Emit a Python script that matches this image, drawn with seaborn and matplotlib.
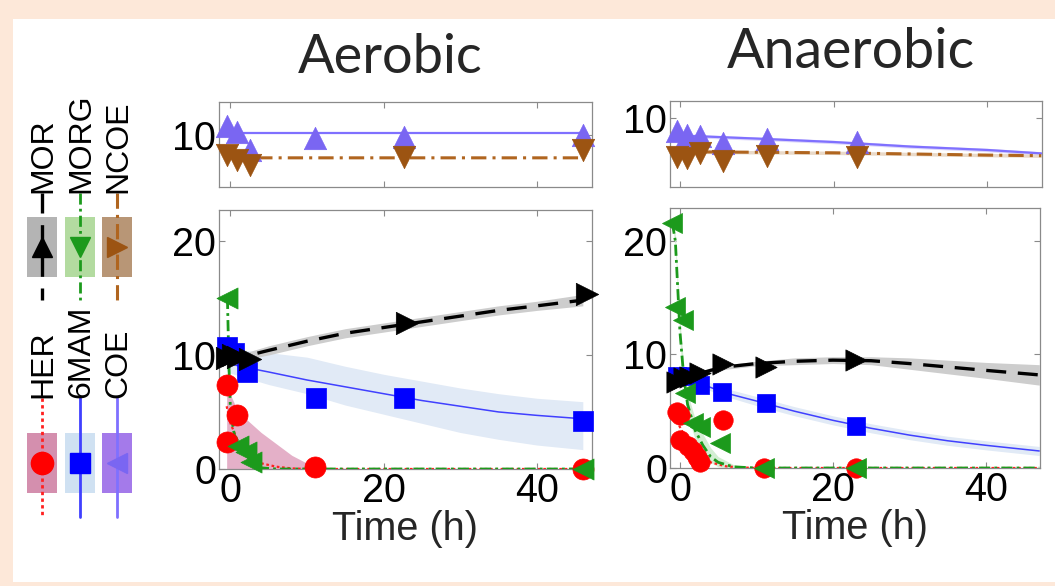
import matplotlib
matplotlib.use("Agg")
import matplotlib.pyplot as plt
from matplotlib.patches import Rectangle
import seaborn as sns

sns.set_theme(style="white")
plt.rcParams['font.family'] = ['Liberation Sans', 'DejaVu Sans']

# ------------------------------------------------------------------ data
titles = ["Aerobic", "Anaerobic"]
xlabel = "Time (h)"
xticks = [0, 20, 40]
yticks_main = [0, 10, 20]
yticks_top = [10]
legend_top = ["MOR", "MORG", "NCOE"]
legend_bottom = ["HER", "6MAM", "COE"]

# ---- Aerobic
aer_her_t = [-0.5, 0.9, -0.4, 11.0, 46.0]
aer_her_y = [7.4, 4.7, 2.4, 0.2, 0.0]
aer_her_fit_t = [-0.5, 0, 1, 2, 3, 4, 6, 8, 10, 12, 20, 30, 46]
aer_her_fit_y = [5.5, 4.0, 2.4, 1.5, 0.9, 0.5, 0.2, 0.05, 0.0, 0.0, 0.0, 0.0, 0.0]
aer_her_hi = [7.5, 6.5, 5.0, 4.4, 3.8, 3.2, 2.2, 1.2, 0.5, 0.1, 0.0, 0.0, 0.0]
aer_her_lo = [0.0, 0.0, 0.0, 0.0, 0.0, 0.0, 0.0, 0.0, 0.0, 0.0, 0.0, 0.0, 0.0]

aer_6mam_t = [-0.5, 0.5, 2.2, 11.1, 22.7, 46.0]
aer_6mam_y = [10.7, 10.2, 8.5, 6.2, 6.2, 4.2]
aer_6mam_fit_t = [-0.5, 0, 2, 5, 10, 15, 20, 25, 30, 35, 40, 46]
aer_6mam_fit_y = [9.3, 9.2, 8.9, 8.5, 7.8, 7.2, 6.6, 6.0, 5.5, 5.0, 4.7, 4.4]
aer_6mam_hi = [10.5, 10.5, 10.4, 10.2, 9.8, 9.0, 8.3, 7.7, 7.1, 6.6, 6.2, 5.9]
aer_6mam_lo = [8.6, 8.4, 8.0, 7.4, 6.6, 5.6, 4.8, 4.0, 3.2, 2.6, 2.1, 1.7]

aer_mor_t = [-0.5, 0.3, 1.0, 2.5, 23.0, 46.5]
aer_mor_y = [9.7, 10.0, 9.8, 9.6, 12.8, 15.3]
aer_mor_fit_t = [-0.5, 0, 2, 5, 10, 15, 20, 25, 30, 35, 40, 46]
aer_mor_fit_y = [9.5, 9.6, 9.9, 10.4, 11.2, 11.9, 12.4, 12.9, 13.4, 13.9, 14.3, 14.8]
aer_mor_hi = [9.7, 9.8, 10.2, 10.8, 11.6, 12.3, 12.8, 13.3, 13.8, 14.3, 14.7, 15.3]
aer_mor_lo = [9.3, 9.4, 9.6, 10.0, 10.8, 11.5, 12.0, 12.5, 13.0, 13.5, 13.9, 14.3]

aer_morg_t = [-0.4, 1.0, 2.0, 2.7, 46.0]
aer_morg_y = [15.0, 2.0, 1.5, 0.6, 0.0]
aer_morg_fit_t = [-0.4, -0.2, 0, 0.5, 1, 2, 3, 4, 6, 10, 20, 46]
aer_morg_fit_y = [15.0, 9.0, 5.0, 3.0, 2.4, 1.3, 0.4, 0.1, 0.0, 0.0, 0.0, 0.0]

aer_coe_t = [-0.5, 0.9, 2.5, 11.0, 22.7, 46.0]
aer_coe_y = [10.8, 10.3, 8.7, 9.7, 9.85, 10.0]
aer_coe_fit_t = [-0.5, 10, 20, 30, 40, 46.5]
aer_coe_fit_y = [10.2, 10.2, 10.2, 10.2, 10.2, 10.2]

aer_ncoe_t = [-0.5, 0.9, 2.5, 22.7, 46.0]
aer_ncoe_y = [8.25, 7.8, 7.4, 8.1, 8.7]
aer_ncoe_fit_t = [-0.5, 10, 20, 30, 40, 46.0, 46.3]
aer_ncoe_fit_y = [8.0, 8.0, 8.0, 8.0, 8.0, 8.0, 8.9]

# ---- Anaerobic
ana_her_t = [-0.4, 0.0, 0.0, 1.1, 1.7, 2.2, 2.6, 5.6, 11.0, 23.0]
ana_her_y = [4.9, 4.7, 2.5, 1.9, 1.5, 1.0, 0.5, 4.2, 0.0, 0.0]
ana_her_fit_t = [-1, 0, 1, 2, 3, 4, 6, 8, 10, 20, 47]
ana_her_fit_y = [5.0, 3.6, 2.4, 1.5, 0.9, 0.5, 0.15, 0.05, 0.0, 0.0, 0.0]

ana_fit_t = [-1, 0, 2, 4, 6, 10, 15, 20, 25, 30, 35, 40, 47]
ana_6mam_t = [-0.4, 1.1, 2.6, 5.5, 11.3, 23.0]
ana_6mam_y = [8.1, 8.1, 7.3, 6.7, 5.7, 3.7]
ana_6mam_fit_y = [8.1, 8.0, 7.6, 7.1, 6.6, 5.9, 5.0, 4.2, 3.5, 2.9, 2.4, 2.0, 1.5]
ana_6mam_hi = [8.4, 8.3, 7.9, 7.5, 7.0, 6.3, 5.4, 4.6, 3.9, 3.3, 2.8, 2.4, 1.9]
ana_6mam_lo = [7.8, 7.7, 7.3, 6.8, 6.3, 5.5, 4.6, 3.8, 3.1, 2.5, 2.0, 1.6, 1.1]

ana_mor_t = [-0.4, 0.5, 1.3, 2.6, 5.6, 11.3, 23.0]
ana_mor_y = [7.6, 7.9, 8.0, 8.4, 9.2, 8.9, 9.5]
ana_mor_fit_y = [7.6, 7.8, 8.2, 8.6, 8.9, 9.2, 9.4, 9.5, 9.45, 9.2, 8.9, 8.6, 8.2]
ana_mor_hi = [7.8, 8.0, 8.4, 8.8, 9.1, 9.4, 9.7, 9.8, 9.8, 9.7, 9.5, 9.3, 9.1]
ana_mor_lo = [7.4, 7.6, 8.0, 8.4, 8.7, 9.0, 9.1, 9.2, 9.1, 8.7, 8.3, 7.9, 7.3]

ana_morg_t = [-1.0, -0.6, 0.4, 0.65, 1.7, 2.6, 5.2, 11.0, 23.0]
ana_morg_y = [21.6, 14.2, 13.0, 6.6, 4.0, 3.6, 2.2, 0.0, 0.0]
ana_morg_fit_t = [-1, -0.6, 0, 0.5, 1, 2, 3, 4, 5, 7, 10, 20, 47]
ana_morg_fit_y = [21.6, 20.0, 12.0, 8.0, 5.6, 3.3, 2.0, 1.0, 0.5, 0.1, 0.0, 0.0, 0.0]
ana_morg_hi = [21.6, 20.5, 13.0, 9.0, 6.6, 4.3, 3.0, 1.8, 1.0, 0.3, 0.05, 0.0, 0.0]
ana_morg_lo = [21.6, 19.5, 11.0, 7.0, 4.6, 2.5, 1.3, 0.5, 0.1, 0.0, 0.0, 0.0, 0.0]

ana_coe_t = [-0.4, 0.9, 2.6, 5.6, 11.3, 23.0]
ana_coe_y = [8.9, 8.5, 8.4, 7.8, 8.2, 7.9]
ana_top_fit_t = [-1, 10, 20, 30, 40, 47]
ana_coe_fit_y = [8.5, 8.2, 7.9, 7.5, 7.2, 6.9]

ana_ncoe_t = [-0.4, 0.9, 2.6, 5.6, 11.3, 23.0]
ana_ncoe_y = [6.6, 6.5, 6.9, 6.25, 6.7, 6.6]
ana_ncoe_fit_y = [7.05, 7.0, 6.95, 6.85, 6.75, 6.7]

# ------------------------------------------------------------------ styles
STY = {
    "HER":  dict(c="#ff0000", line="#ff2020", band="#e4b0c8", m="o", lm="o", ls=(0, (1.2, 1.2)), lw=1.6, s=230, box="#d48fae", lms=16),
    "6MAM": dict(c="#0000ff", line="#4040ff", band="#e1eaf6", m="s", lm="s", ls="-", lw=1.1, s=200, box="#cfe1f2", lms=14),
    "MOR":  dict(c="#000000", line="#000000", band="#cdcdcd", m=">", lm="^", ls=(0, (6, 3.5)), lw=2.4, s=260, box="#b4b4b4", lms=14),
    "MORG": dict(c="#1c9a1c", line="#1c9a1c", band="#d3eed3", m="<", lm="v", ls=(0, (4, 1.5, 1, 1.5)), lw=2.0, s=230, box="#b3dba0", lms=14),
    "COE":  dict(c="#7a66f2", line="#7f70ff", band="#dcd6fb", m="^", lm="<", ls="-", lw=1.6, s=260, box="#a47aea", lms=14),
    "NCOE": dict(c="#9c5412", line="#b0651f", band="#e9d9c8", m="v", lm=">", ls=(0, (5, 2, 1, 2)), lw=2.2, s=260, box="#b89676", lms=14),
}

W, H = 1055, 586
fig = plt.figure(figsize=(W / 100, H / 100), dpi=100)
fig.patch.set_facecolor("#fde8d9")
fig.patches.append(Rectangle((13 / W, 1 - 582 / H), 1 - 13 / W, (582 - 19) / H,
                             transform=fig.transFigure, facecolor="white",
                             edgecolor="none", zorder=-5))

TICKFS = 28.5


def frame(ax, xlim, ylim, yt, show_x):
    ax.set_xlim(*xlim)
    ax.set_ylim(*ylim)
    ax.set_xticks(xticks)
    ax.set_yticks(yt)
    for sp in ax.spines.values():
        sp.set_visible(True)
        sp.set_color("#8a8a8a")
        sp.set_linewidth(0.9)
    ax.tick_params(direction="in", length=4, width=0.8, color="#8a8a8a",
                   top=True, right=True, left=True, bottom=True,
                   labelsize=TICKFS, pad=2, labelcolor="black")
    if show_x:
        ax.set_xlabel(xlabel, fontsize=TICKFS, labelpad=0)
    else:
        ax.tick_params(labelbottom=False)
        ax.set_xlabel("")
    ax.set_ylabel("")
    ax.set_facecolor("white")
    ax.grid(False)


def band(ax, name, t, lo, hi):
    ax.fill_between(t, lo, hi, color=STY[name]["band"], linewidth=0, zorder=1)


def fit(ax, name, t, y):
    st = STY[name]
    sns.lineplot(x=t, y=y, ax=ax, color=st["line"], linestyle=st["ls"],
                 linewidth=st["lw"], sort=False, estimator=None, legend=False, zorder=3)


def pts(ax, name, t, y, scale=1.0):
    st = STY[name]
    sns.scatterplot(x=t, y=y, ax=ax, marker=st["m"], s=st["s"] * scale, color=st["c"],
                    edgecolor=st["c"], linewidth=0.5, clip_on=False, legend=False, zorder=5)


# ---------------- Aerobic
ax_at = fig.add_axes([219 / W, 1 - 187 / H, 373 / W, 85 / H])
fit(ax_at, "COE", aer_coe_fit_t, aer_coe_fit_y)
fit(ax_at, "NCOE", aer_ncoe_fit_t, aer_ncoe_fit_y)
pts(ax_at, "COE", aer_coe_t, aer_coe_y)
pts(ax_at, "NCOE", aer_ncoe_t, aer_ncoe_y)
frame(ax_at, (-1.5, 47.2), (5.44, 12.9), yticks_top, False)

ax_ab = fig.add_axes([219 / W, 1 - 469 / H, 373 / W, 259 / H])
band(ax_ab, "HER", aer_her_fit_t, aer_her_lo, aer_her_hi)
band(ax_ab, "6MAM", aer_6mam_fit_t, aer_6mam_lo, aer_6mam_hi)
band(ax_ab, "MOR", aer_mor_fit_t, aer_mor_lo, aer_mor_hi)
fit(ax_ab, "HER", aer_her_fit_t, aer_her_fit_y)
fit(ax_ab, "6MAM", aer_6mam_fit_t, aer_6mam_fit_y)
fit(ax_ab, "MOR", aer_mor_fit_t, aer_mor_fit_y)
fit(ax_ab, "MORG", aer_morg_fit_t, aer_morg_fit_y)
pts(ax_ab, "6MAM", aer_6mam_t, aer_6mam_y)
pts(ax_ab, "MOR", aer_mor_t, aer_mor_y)
pts(ax_ab, "HER", aer_her_t, aer_her_y)
pts(ax_ab, "MORG", aer_morg_t, aer_morg_y)
frame(ax_ab, (-1.5, 47.2), (0, 22.7), yticks_main, True)

# ---------------- Anaerobic
ax_nt = fig.add_axes([670 / W, 1 - 187 / H, 372 / W, 86 / H])
band(ax_nt, "COE", ana_top_fit_t, [v - 0.15 for v in ana_coe_fit_y], [v + 0.15 for v in ana_coe_fit_y])
band(ax_nt, "NCOE", ana_top_fit_t, [v - 0.15 for v in ana_ncoe_fit_y], [v + 0.15 for v in ana_ncoe_fit_y])
fit(ax_nt, "COE", ana_top_fit_t, ana_coe_fit_y)
fit(ax_nt, "NCOE", ana_top_fit_t, ana_ncoe_fit_y)
pts(ax_nt, "COE", ana_coe_t, ana_coe_y)
pts(ax_nt, "NCOE", ana_ncoe_t, ana_ncoe_y)
frame(ax_nt, (-1.3, 47.1), (3.95, 11.5), yticks_top, False)

ax_nb = fig.add_axes([670 / W, 1 - 468 / H, 370 / W, 260 / H])
band(ax_nb, "6MAM", ana_fit_t, ana_6mam_lo, ana_6mam_hi)
band(ax_nb, "MOR", ana_fit_t, ana_mor_lo, ana_mor_hi)
band(ax_nb, "MORG", ana_morg_fit_t, ana_morg_lo, ana_morg_hi)
fit(ax_nb, "HER", ana_her_fit_t, ana_her_fit_y)
fit(ax_nb, "6MAM", ana_fit_t, ana_6mam_fit_y)
fit(ax_nb, "MOR", ana_fit_t, ana_mor_fit_y)
fit(ax_nb, "MORG", ana_morg_fit_t, ana_morg_fit_y)
pts(ax_nb, "6MAM", ana_6mam_t, ana_6mam_y, 0.9)
pts(ax_nb, "MOR", ana_mor_t, ana_mor_y, 0.9)
pts(ax_nb, "HER", ana_her_t, ana_her_y, 0.85)
pts(ax_nb, "MORG", ana_morg_t, ana_morg_y, 0.9)
frame(ax_nb, (-1.3, 47.1), (0, 22.9), yticks_main, True)

# ---------------- titles
fig.text(390 / W, 1 - 73 / H, titles[0], fontsize=39, family=["Lato", "DejaVu Sans"],
         ha="center", va="baseline")
fig.text(851 / W, 1 - 68 / H, titles[1], fontsize=40, family=["Lato", "DejaVu Sans"],
         ha="center", va="baseline")

# ---------------- rotated legend (left strip)
lg = fig.add_axes([0, 0, 1, 1], facecolor="none")
lg.set_xlim(0, W)
lg.set_ylim(H, 0)
lg.axis("off")
col_x = [42, 80, 117]
groups = [(legend_top, 193, 193, 300, 217, 277), (legend_bottom, 398, 398, 517, 433, 493)]
for names, ty, l0, l1, b0, b1 in groups:
    for x, nm in zip(col_x, names):
        st = STY[nm]
        lg.add_patch(Rectangle((x - 15, b0), 30, b1 - b0, facecolor=st["box"],
                               edgecolor="none", zorder=1))
        lg.plot([x, x], [l0, l1], color=st["line"], linestyle=st["ls"],
                linewidth=max(st["lw"], 2.0), zorder=2)
        lg.plot([x], [(b0 + b1) / 2], marker=st["lm"], markersize=st["lms"], color=st["c"],
                markeredgecolor=st["c"], zorder=3)
        lg.text(x + 1, ty, nm, rotation=90, rotation_mode="anchor", ha="left", va="center",
                fontsize=23, color="black")

fig.savefig("out.png", dpi=100, facecolor=fig.get_facecolor())
